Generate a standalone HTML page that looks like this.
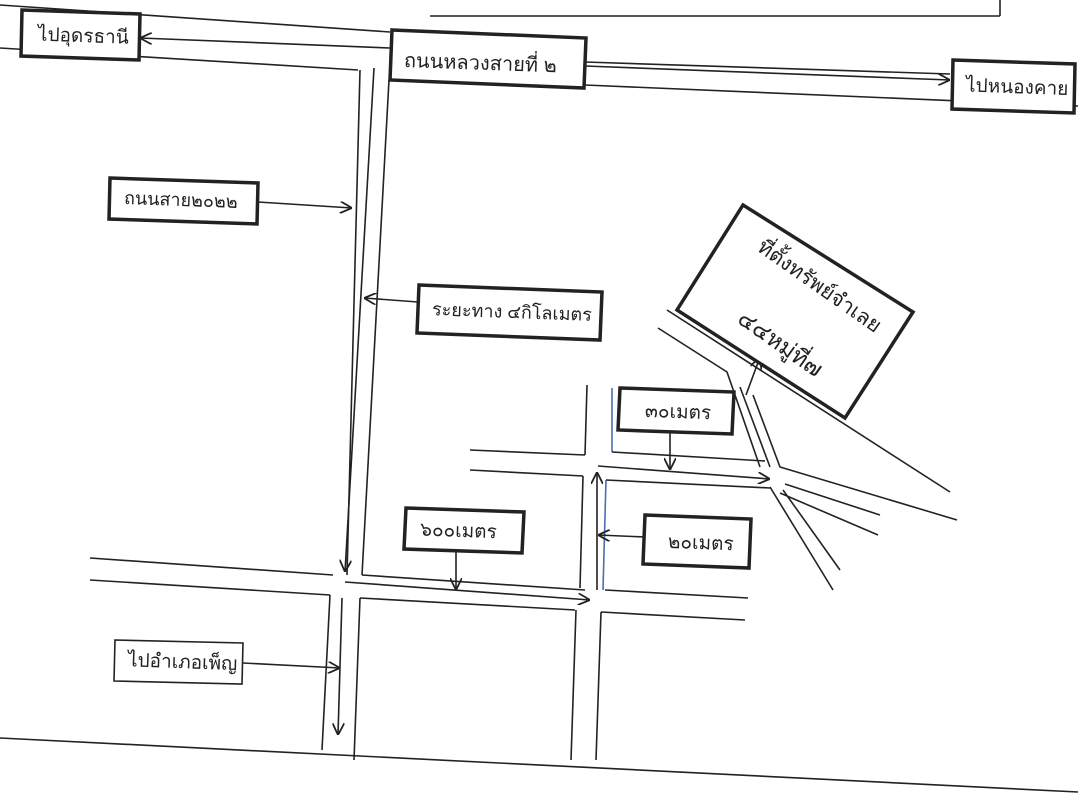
<!DOCTYPE html>
<html><head><meta charset="utf-8">
<style>
html,body{margin:0;padding:0;background:#fff;}
svg{display:block;}
text{font-family:"Liberation Sans","DejaVu Sans",sans-serif;fill:#222;}
</style></head>
<body>
<svg width="1078" height="800" viewBox="0 0 1078 800" xmlns="http://www.w3.org/2000/svg">
<defs>
<marker id="a" viewBox="0 0 10 10" refX="10" refY="5" markerWidth="12" markerHeight="12" markerUnits="userSpaceOnUse" orient="auto">
<path d="M0,0 L10,5 L0,10" fill="none" stroke="#222" stroke-width="1.5"/>
</marker>
</defs>
<g stroke="#222" stroke-width="1.6" fill="none">
<line x1="430" y1="16" x2="1000" y2="16"/>
<line x1="1000" y1="0" x2="1000" y2="16"/>
<line x1="0" y1="5" x2="390" y2="32"/>
<line x1="585" y1="62" x2="950" y2="74"/>
<line x1="0" y1="48" x2="358" y2="70"/>
<line x1="585" y1="85" x2="1078" y2="106"/>
<line x1="390" y1="48" x2="140" y2="38" marker-end="url(#a)"/>
<line x1="585" y1="66" x2="950" y2="80" marker-end="url(#a)"/>
<line x1="360" y1="70" x2="347" y2="575"/>
<line x1="374" y1="68" x2="345" y2="572" marker-end="url(#a)"/>
<line x1="389" y1="80" x2="362" y2="575"/>
<line x1="90" y1="558" x2="333" y2="575"/>
<line x1="90" y1="580" x2="330" y2="595"/>
<line x1="345" y1="582" x2="590" y2="600" marker-end="url(#a)"/>
<line x1="362" y1="575" x2="585" y2="590"/>
<line x1="360" y1="598" x2="575" y2="610"/>
<line x1="330" y1="595" x2="322" y2="750"/>
<line x1="342" y1="598" x2="338" y2="735" marker-end="url(#a)"/>
<line x1="360" y1="598" x2="354" y2="760"/>
<line x1="0" y1="738" x2="1078" y2="792"/>
<line x1="576" y1="610" x2="571" y2="760"/>
<line x1="601" y1="612" x2="596" y2="760"/>
<line x1="601" y1="612" x2="745" y2="620"/>
<line x1="605" y1="590" x2="748" y2="598"/>
<line x1="587" y1="385" x2="585" y2="455"/>
<line x1="470" y1="450" x2="585" y2="455"/>
<line x1="470" y1="470" x2="583" y2="476"/>
<line x1="583" y1="476" x2="580" y2="588"/>
<line x1="597" y1="590" x2="597" y2="472" marker-end="url(#a)"/>
<line x1="606" y1="480" x2="603" y2="590" stroke="#4a6fb0"/>
<line x1="606" y1="480" x2="770" y2="488"/>
<line x1="612" y1="388" x2="612" y2="452" stroke="#4a6fb0"/>
<line x1="612" y1="452" x2="765" y2="461"/>
<line x1="598" y1="466" x2="770" y2="479" marker-end="url(#a)"/>
<polyline points="658,328 727,372 760,467"/>
<line x1="667" y1="310" x2="950" y2="492"/>
<polyline points="753,395 780,467 957,520"/>
<line x1="740" y1="387" x2="770" y2="467"/>
<line x1="746" y1="395" x2="760" y2="357" marker-end="url(#a)"/>
<line x1="770" y1="487" x2="833" y2="590"/>
<line x1="783" y1="490" x2="840" y2="570"/>
<line x1="780" y1="493" x2="878" y2="535"/>
<line x1="785" y1="484" x2="880" y2="515"/>
<line x1="258" y1="202" x2="352" y2="208" marker-end="url(#a)"/>
<line x1="418" y1="302" x2="364" y2="298" marker-end="url(#a)"/>
<line x1="670" y1="432" x2="670" y2="470" marker-end="url(#a)"/>
<line x1="645" y1="537" x2="598" y2="535" marker-end="url(#a)"/>
<line x1="456" y1="552" x2="456" y2="590" marker-end="url(#a)"/>
<line x1="243" y1="663" x2="340" y2="668" marker-end="url(#a)"/>
</g>
<g stroke="#222" stroke-width="3.5" fill="#fff">
<polygon points="22,10 140,14 139,60 21,56"/>
<polygon points="392,30 586,38 584,88 390,80"/>
<polygon points="953,60 1075,64 1074,113 952,109"/>
<polygon points="110,178 258,183 257,224 109,219"/>
<polygon points="419,285 602,292 600,340 417,333"/>
<polygon points="620,388 734,392 732,434 618,430"/>
<polygon points="645,515 751,519 749,568 643,564"/>
<polygon points="406,508 524,512 522,553 404,549"/>
<polygon points="743,205 913,312 845,418 677,310"/>
</g>
<polygon points="115,640 243,643 242,684 114,681" stroke="#222" stroke-width="1.6" fill="#fff"/>
<g font-size="19">
<text x="38" y="42" transform="rotate(2 80 35)">ไปอุดรธานี</text>
<text x="404" y="70" font-size="20" transform="rotate(2 490 60)">ถนนหลวงสายที่ ๒</text>
<text x="966" y="93" transform="rotate(2 1010 88)">ไปหนองคาย</text>
<text x="124" y="206" font-size="18" transform="rotate(2 180 200)">ถนนสาย๒๐๒๒</text>
<text x="432" y="318" font-size="18" transform="rotate(2 510 312)">ระยะทาง ๔กิโลเมตร</text>
<text x="645" y="418" transform="rotate(2 676 412)">๓๐เมตร</text>
<text x="668" y="549" transform="rotate(2 698 542)">๒๐เมตร</text>
<text x="420" y="537" transform="rotate(2 462 530)">๖๐๐เมตร</text>
<text x="128" y="668" transform="rotate(2 178 662)">ไปอำเภอเพ็ญ</text>
<text x="756" y="250" font-size="21" transform="rotate(35 756 250)">ที่ตั้งทรัพย์จำเลย</text>
<text x="736" y="322" font-size="23" transform="rotate(35 736 322)">๔๔หมู่ที่๗</text>
</g>
</svg>
</body></html>
